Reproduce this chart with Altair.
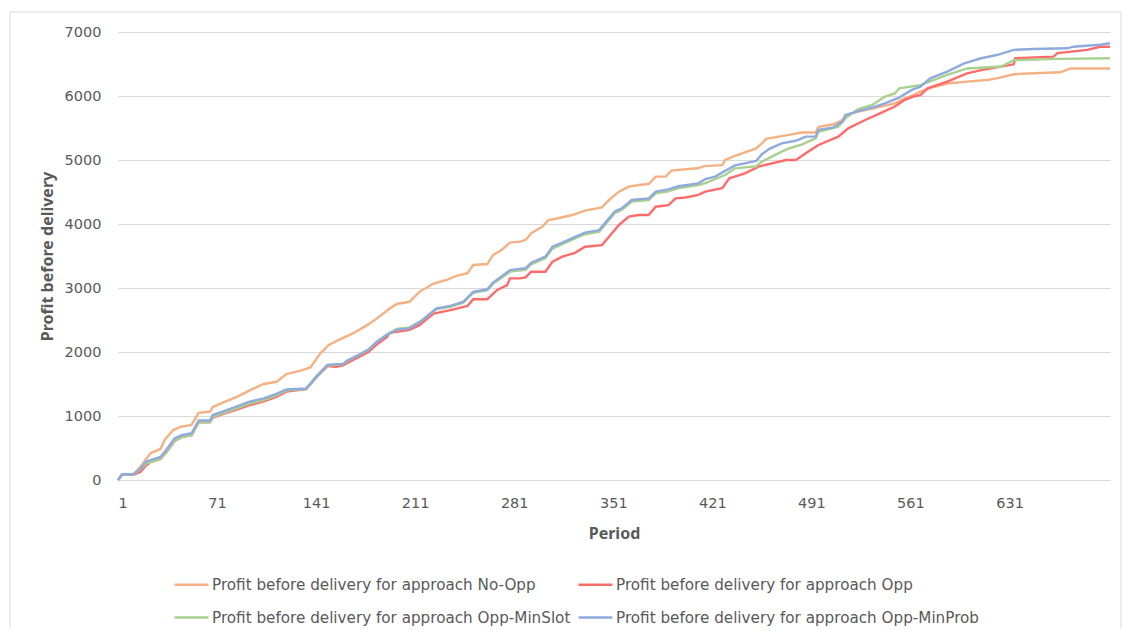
import altair as alt
import pandas as pd

series_names = [
    "Profit before delivery for approach No-Opp",
    "Profit before delivery for approach Opp-MinSlot",
    "Profit before delivery for approach Opp",
    "Profit before delivery for approach Opp-MinProb",
]
series_colors = ["#F4B183", "#A9D18E", "#FF6B6B", "#8FAADC"]

noopp_period = [1, 4, 12, 17, 24, 31, 34, 40, 45, 53, 58, 66, 68, 75, 85, 94, 104, 113, 120, 130,
                137, 144, 150, 157, 167, 177, 184, 193, 198, 207, 214, 224, 233, 240, 248, 252, 262,
                266, 272, 278, 285, 289, 293, 301, 305, 312, 322, 331, 343, 348, 355, 362, 369, 376,
                381, 388, 392, 402, 411, 415, 428, 430, 437, 444, 452, 456, 459, 468, 477, 484, 494,
                496, 506, 513, 515, 524, 534, 543, 550, 557, 563, 568, 578, 587, 601, 615, 622, 634,
                648, 667, 674, 702]
noopp_profit = [0, 90, 90, 210, 420, 485, 625, 780, 830, 860, 1050, 1070, 1140, 1210, 1300, 1400, 1500,
                1535, 1655, 1710, 1760, 1980, 2110, 2190, 2290, 2420, 2525, 2680, 2750, 2785, 2940,
                3070, 3125, 3190, 3230, 3360, 3375, 3515, 3595, 3710, 3725, 3750, 3855, 3960, 4060,
                4090, 4140, 4210, 4260, 4375, 4505, 4585, 4610, 4625, 4740, 4740, 4835, 4855, 4870,
                4905, 4920, 5000, 5065, 5120, 5180, 5260, 5330, 5365, 5400, 5430, 5430, 5520, 5555,
                5625, 5700, 5755, 5805, 5850, 5885, 5965, 6015, 6070, 6145, 6195, 6225, 6250, 6275,
                6340, 6355, 6370, 6430, 6430]

opp_period = [1, 4, 12, 17, 21, 24, 31, 35, 41, 46, 53, 58, 66, 68, 75, 85, 94, 104, 113, 120, 134,
              141, 149, 155, 160, 163, 172, 178, 184, 191, 193, 207, 214, 224, 236, 248, 252, 262,
              269, 276, 278, 285, 289, 293, 303, 308, 315, 324, 331, 343, 348, 355, 362, 369, 376,
              381, 390, 395, 402, 411, 416, 428, 433, 444, 454, 473, 480, 487, 496, 510, 517, 529,
              541, 550, 557, 563, 568, 573, 587, 601, 611, 625, 634, 635, 662, 665, 686, 695, 702]
opp_profit = [0, 90, 80, 130, 230, 280, 330, 430, 610, 670, 700, 900, 900, 975, 1030, 1100, 1170,
              1230, 1300, 1380, 1420, 1600, 1780, 1770, 1790, 1830, 1930, 2000, 2120, 2230, 2300,
              2345, 2420, 2600, 2655, 2720, 2825, 2825, 2970, 3045, 3150, 3150, 3165, 3255, 3255,
              3410, 3490, 3550, 3645, 3670, 3800, 3985, 4115, 4140, 4140, 4270, 4295, 4400, 4415,
              4455, 4505, 4560, 4715, 4790, 4900, 5000, 5000, 5105, 5235, 5365, 5495, 5625, 5745,
              5835, 5940, 5990, 6015, 6120, 6225, 6355, 6405, 6460, 6495, 6590, 6615, 6670, 6720,
              6770, 6770]

minslot_period = [1, 4, 12, 17, 21, 31, 35, 41, 46, 53, 58, 66, 68, 75, 85, 94, 104, 113, 120, 134,
                  141, 149, 160, 163, 172, 178, 184, 191, 198, 207, 214, 219, 226, 236, 245, 252,
                  262, 266, 272, 278, 289, 293, 303, 308, 315, 324, 331, 341, 345, 352, 357, 364,
                  376, 381, 390, 397, 411, 416, 430, 437, 452, 456, 461, 470, 475, 484, 494, 496,
                  510, 515, 524, 534, 543, 550, 553, 568, 587, 601, 625, 634, 667, 702]
minslot_profit = [0, 90, 90, 170, 260, 330, 440, 620, 670, 700, 900, 900, 985, 1040, 1120, 1195,
                  1250, 1320, 1400, 1420, 1600, 1790, 1810, 1860, 1960, 2035, 2165, 2275, 2360,
                  2385, 2470, 2550, 2670, 2705, 2770, 2925, 2965, 3065, 3160, 3255, 3285, 3370,
                  3465, 3615, 3685, 3775, 3840, 3880, 3985, 4170, 4220, 4350, 4375, 4480, 4510,
                  4560, 4610, 4640, 4765, 4870, 4900, 4975, 5030, 5130, 5180, 5240, 5340, 5440,
                  5520, 5650, 5795, 5860, 5990, 6040, 6120, 6170, 6330, 6430, 6460, 6560, 6580,
                  6590]

minprob_period = [1, 4, 12, 17, 21, 31, 35, 41, 46, 53, 58, 66, 68, 75, 85, 94, 104, 113, 120, 134,
                  141, 149, 160, 163, 172, 178, 184, 191, 198, 207, 214, 219, 226, 236, 245, 252,
                  262, 266, 272, 278, 289, 293, 303, 308, 315, 324, 331, 341, 345, 352, 357, 364,
                  376, 381, 390, 397, 411, 416, 423, 430, 437, 452, 456, 461, 470, 480, 487, 494,
                  496, 506, 513, 515, 524, 534, 543, 553, 562, 568, 575, 587, 599, 611, 622, 634,
                  648, 672, 676, 695, 702]
minprob_profit = [0, 90, 90, 180, 290, 360, 470, 650, 700, 730, 930, 930, 1015, 1070, 1150, 1225,
                  1275, 1345, 1415, 1430, 1615, 1800, 1815, 1865, 1965, 2040, 2160, 2265, 2345,
                  2370, 2460, 2550, 2680, 2720, 2785, 2940, 2980, 3085, 3180, 3280, 3310, 3395,
                  3490, 3645, 3710, 3800, 3865, 3905, 4010, 4195, 4245, 4375, 4400, 4505, 4540,
                  4590, 4635, 4700, 4740, 4830, 4915, 4985, 5090, 5170, 5260, 5300, 5365, 5365,
                  5470, 5505, 5600, 5700, 5765, 5820, 5885, 5975, 6095, 6145, 6275, 6380, 6510,
                  6590, 6640, 6720, 6735, 6745, 6770, 6800, 6825]

x_tick_values = [1, 71, 141, 211, 281, 351, 421, 491, 561, 631]
y_tick_values = [0, 1000, 2000, 3000, 4000, 5000, 6000, 7000]

series_data = {
    "Profit before delivery for approach No-Opp": (noopp_period, noopp_profit),
    "Profit before delivery for approach Opp": (opp_period, opp_profit),
    "Profit before delivery for approach Opp-MinSlot": (minslot_period, minslot_profit),
    "Profit before delivery for approach Opp-MinProb": (minprob_period, minprob_profit),
}
frames = []
for name, (per, val) in series_data.items():
    frames.append(pd.DataFrame({"Period": per, "Profit": val, "Series": name}))
df = pd.concat(frames, ignore_index=True)

TICK_FONT = "DejaVu Sans"
TITLE_FONT = "Noto Sans"
GRAY = "#595959"

lines = alt.Chart(df).mark_line(strokeWidth=2.4, interpolate="linear").encode(
    x=alt.X(
        "Period:Q",
        scale=alt.Scale(domain=[1, 702], nice=False, zero=False),
        axis=alt.Axis(
            values=x_tick_values,
            format="d",
            title="Period",
            grid=False,
            ticks=False,
            domainColor="#D9D9D9",
            domainWidth=1,
            labelColor=GRAY,
            labelFont=TICK_FONT,
            labelFontSize=14.5,
            labelPadding=16,
            titleFont=TITLE_FONT,
            titleFontSize=16,
            titleFontWeight="bold",
            titleColor=GRAY,
            titleX=496,
            titleY=53,
            titleBaseline="middle",
            titleAlign="center",
        ),
    ),
    y=alt.Y(
        "Profit:Q",
        scale=alt.Scale(domain=[0, 7000], nice=False),
        axis=alt.Axis(
            values=y_tick_values,
            format="d",
            title="Profit before delivery",
            grid=True,
            gridColor="#D9D9D9",
            gridWidth=1,
            domain=False,
            ticks=False,
            labelColor=GRAY,
            labelFont=TICK_FONT,
            labelFontSize=14.5,
            labelPadding=17,
            titleFont=TITLE_FONT,
            titleFontSize=16,
            titleFontWeight="bold",
            titleColor=GRAY,
            titleAngle=270,
            titleX=-71,
            titleY=224,
            titleBaseline="middle",
            titleAlign="center",
        ),
    ),
    color=alt.Color(
        "Series:N",
        scale=alt.Scale(domain=series_names, range=series_colors),
        legend=alt.Legend(
            title=None,
            orient="none",
            legendX=55,
            legendY=534,
            columns=2,
            columnPadding=2,
            rowPadding=6,
            padding=0,
            symbolType="stroke",
            symbolStrokeWidth=2.5,
            symbolSize=1150,
            labelFont=TICK_FONT,
            labelFontSize=15.2,
            labelColor=GRAY,
            labelLimit=600,
            labelOffset=2,
        ),
    ),
    order=alt.Order("Period:Q"),
)

frame_top = alt.Chart().mark_rule(color="#D9D9D9", strokeWidth=1).encode(
    x=alt.value(-108), x2=alt.value(1003), y=alt.value(-20)
)
frame_left = alt.Chart().mark_rule(color="#D9D9D9", strokeWidth=1).encode(
    x=alt.value(-108), y=alt.value(-20), y2=alt.value(640)
)
frame_right = alt.Chart().mark_rule(color="#D9D9D9", strokeWidth=1).encode(
    x=alt.value(1003), y=alt.value(-20), y2=alt.value(640)
)

chart = alt.layer(frame_top, frame_left, frame_right, lines).properties(
    width=992,
    height=448,
    autosize=alt.AutoSizeParams(type="none"),
    padding={"left": 110, "top": 24, "right": 14, "bottom": 148},
    background="white",
).configure_view(stroke=None)

chart.save("out.html", embed_options={"renderer": "svg", "actions": False})
